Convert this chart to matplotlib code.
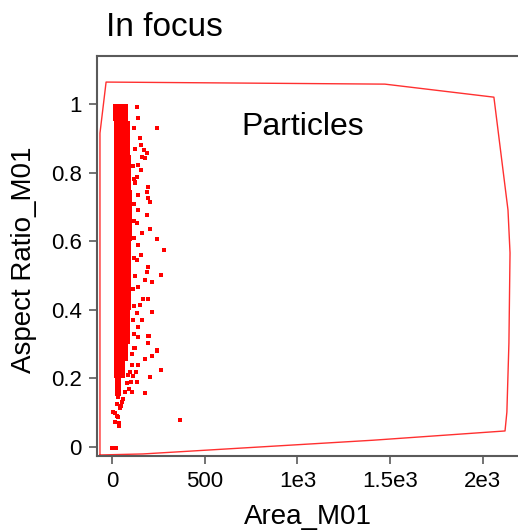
import matplotlib
matplotlib.use("Agg")
import matplotlib.pyplot as plt
import numpy as np

plt.rcParams['font.family'] = ['Liberation Sans', 'DejaVu Sans']

# dense core of the population, one band per 0.05 of aspect ratio
band_y = [0.15, 0.20, 0.25, 0.30, 0.35, 0.40, 0.45, 0.50, 0.55,
          0.60, 0.65, 0.70, 0.75, 0.80, 0.85, 0.90, 0.95]
band_lo = [18, 12, 10, 10, 10, 10, 10, 10, 10,
           10, 10, 10, 10, 10, 10, 10, 6]
band_hi = [48, 70, 85, 95, 98, 100, 102, 105, 105,
           108, 110, 108, 105, 102, 98, 95, 85]

# sparse events outside the core (area, aspect ratio)
pts_x = [137, 241, 142, 151, 156, 174, 187, 164, 178, 142, 156, 133, 124,
         124, 192, 187, 139, 192, 205, 142, 187, 133, 164, 205, 241, 142,
         282, 156, 133, 196, 187, 264, 178, 214, 142, 169, 192, 151, 214,
         133, 160, 142, 196, 200, 139, 196, 124, 241, 241, 214, 178, 142,
         264, 128, 205, 88, 115, 133, 79, 178, 106, 70, 34, 25, 7, 16, 34,
         16, 38, 2, 22, 367,
         118, 122, 115, 120, 117, 121, 116, 119, 123, 114, 118, 112, 120,
         116, 110, 108, 96, 100, 92, 60, 55, 50, 45, 28, 40]
pts_y = [0.99, 0.93, 0.958, 0.90, 0.88, 0.866, 0.857, 0.846, 0.843, 0.822,
         0.808, 0.788, 0.773, 0.769, 0.759, 0.744, 0.735, 0.725, 0.715,
         0.691, 0.676, 0.652, 0.623, 0.635, 0.606, 0.589, 0.574, 0.560,
         0.545, 0.526, 0.509, 0.501, 0.487, 0.482, 0.467, 0.431, 0.431,
         0.414, 0.394, 0.390, 0.370, 0.351, 0.325, 0.325, 0.322, 0.302,
         0.288, 0.283, 0.281, 0.265, 0.256, 0.239, 0.224, 0.220, 0.203,
         0.210, 0.207, 0.190, 0.186, 0.158, 0.161, 0.161, 0.147, 0.127,
         0.103, 0.098, 0.088, 0.074, 0.071, -0.002, -0.002, 0.08,
         0.93, 0.87, 0.82, 0.78, 0.71, 0.66, 0.61, 0.55, 0.50, 0.46, 0.41,
         0.37, 0.33, 0.29, 0.27, 0.24, 0.22, 0.19, 0.17, 0.14, 0.13, 0.12,
         0.115, 0.09, 0.06]

# gate polygon
gate_x = [-65, -65, -32, 1472, 2060, 2136, 2147, 2141, 2130, 2120, 1408, 167, -65]
gate_y = [-0.023, 0.915, 1.064, 1.058, 1.020, 0.691, 0.566, 0.303, 0.102,
          0.047, 0.020, -0.020, -0.023]

xticks = [0, 500, 1000, 1500, 2000]
xticklabels = ['0', '500', '1e3', '1.5e3', '2e3']
yticks = [0, 0.2, 0.4, 0.6, 0.8, 1.0]
yticklabels = ['0', '0.2', '0.4', '0.6', '0.8', '1']

fig = plt.figure(figsize=(5.18, 5.31), dpi=100)
ax = fig.add_axes([97 / 518, 75 / 531, 421 / 518, 400 / 531])

ax.barh(band_y, np.array(band_hi) - np.array(band_lo), height=0.05,
        left=band_lo, align='edge', color='#ff0000', linewidth=0)
ax.scatter(pts_x, pts_y, s=5, marker='s', color='#ff0000', linewidths=0)
ax.plot(gate_x, gate_y, color='#ff3030', lw=1.0)

ax.text(1030, 0.933, 'Particles', ha='center', va='center', fontsize=23)

ax.set_xlim(-81, 2190)
ax.set_ylim(-0.026, 1.140)
ax.set_xticks(xticks)
ax.set_xticklabels(xticklabels)
ax.set_yticks(yticks)
ax.set_yticklabels(yticklabels)

for side in ['left', 'bottom', 'top']:
    ax.spines[side].set_color('#5a5a5a')
    ax.spines[side].set_linewidth(1.5)
ax.spines['right'].set_visible(False)
ax.tick_params(axis='both', length=6, width=1.2, color='#5a5a5a',
               labelsize=16, pad=5)

ax.set_xlabel('Area_M01', fontsize=20)
ax.set_ylabel('Aspect Ratio_M01', fontsize=20)
ax.xaxis.set_label_coords(0.5, -0.12)
ax.yaxis.set_label_coords(-0.143, 0.49)

fig.text(106 / 518, 1 - 36 / 531, 'In focus', fontsize=24, va='baseline')

fig.savefig('out.png', dpi=100)
